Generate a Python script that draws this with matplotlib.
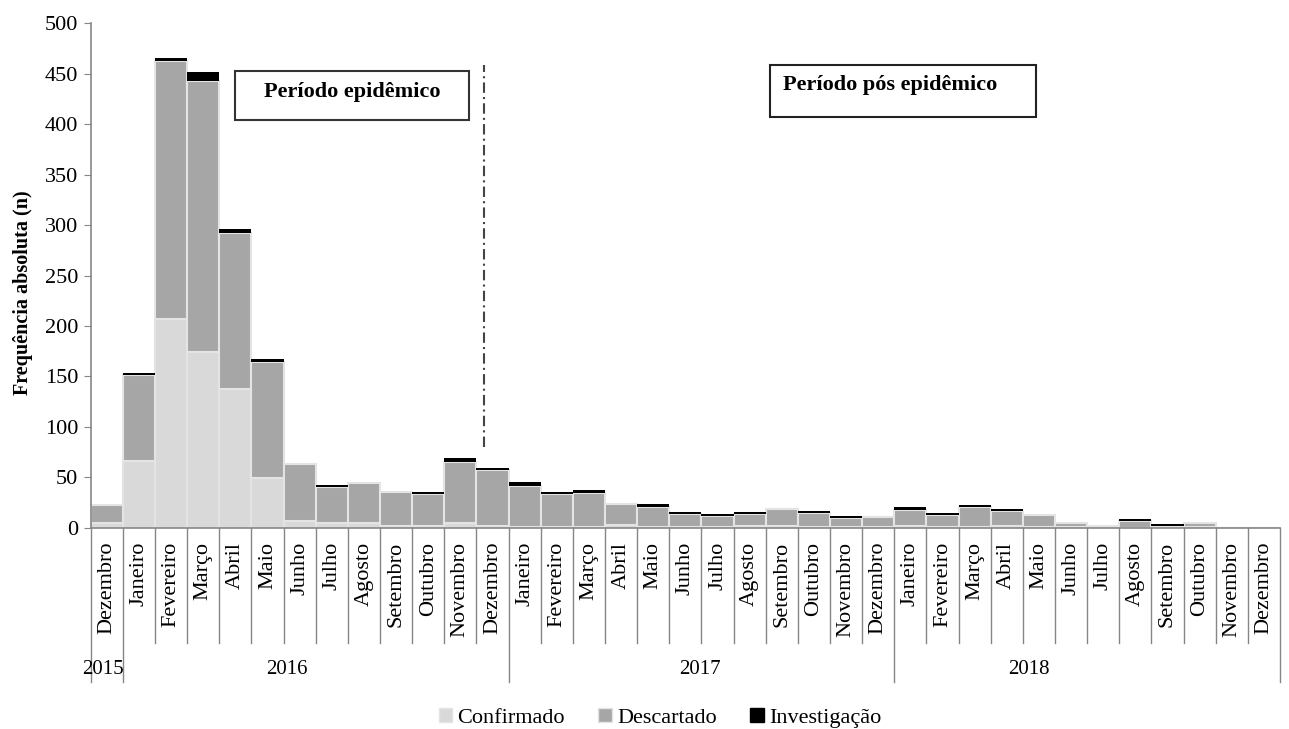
import numpy as np
import matplotlib
matplotlib.use("Agg")
import matplotlib.pyplot as plt
from matplotlib.patches import Patch, Rectangle

plt.rcParams["font.family"] = ["Liberation Serif", "DejaVu Serif"]

# months: Dez/2015, then Jan..Dez for 2016, 2017, 2018
month_names = ["Janeiro", "Fevereiro", "Março", "Abril", "Maio", "Junho",
               "Julho", "Agosto", "Setembro", "Outubro", "Novembro", "Dezembro"]
months = ["Dezembro"] + month_names * 3
years = ["2015", "2016", "2017", "2018"]
year_sizes = [1, 12, 12, 12]

confirmado = [5, 66, 207, 174, 138, 49, 7, 5, 5, 2, 2, 5, 2,
              1, 1, 1, 3, 1, 1, 1, 2, 2, 1, 1, 1,
              2, 1, 1, 2, 1, 1, 0, 0, 0, 1, 0, 0]
descartado = [18, 85, 256, 269, 154, 115, 56, 35, 39, 33, 31, 60, 55,
              40, 32, 33, 21, 20, 13, 11, 12, 17, 14, 9, 10,
              16, 12, 20, 15, 12, 4, 2, 7, 2, 4, 0, 0]
investigacao = [0, 2, 3, 9, 4, 3, 0, 2, 0, 0, 2, 4, 2,
                4, 2, 3, 0, 3, 2, 2, 2, 0, 2, 2, 0,
                3, 2, 2, 2, 0, 0, 0, 2, 2, 0, 0, 0]

c_conf = "#d9d9d9"
c_desc = "#a6a6a6"
c_inv = "#000000"
edge = "#e4e4e4"
axis_gray = "#868686"

fig = plt.figure(figsize=(12.89, 7.29), dpi=100)
ax = fig.add_axes([0.0704, 0.2761, 0.9226, 0.6919])

x = np.arange(len(months))
conf = np.array(confirmado)
desc = np.array(descartado)
inv = np.array(investigacao)

ax.bar(x, conf, width=1.0, color=c_conf, edgecolor=edge, linewidth=1.5)
ax.bar(x, desc, width=1.0, bottom=conf, color=c_desc, edgecolor=edge, linewidth=1.5)
ax.bar(x, inv, width=1.0, bottom=conf + desc, color=c_inv, linewidth=0)

ax.set_xlim(-0.5, len(months) - 0.5)
ax.set_ylim(0, 500)
ax.set_yticks(np.arange(0, 501, 50))
ax.tick_params(axis="y", labelsize=16, length=5, color=axis_gray, pad=4)
ax.set_xticks(x)
ax.set_xticklabels(months, rotation=90, fontsize=16)
ax.tick_params(axis="x", length=0, pad=10)

for s in ["top", "right"]:
    ax.spines[s].set_visible(False)
for s in ["left", "bottom"]:
    ax.spines[s].set_color(axis_gray)
    ax.spines[s].set_linewidth(1.2)

# separators under the axis
trans = ax.get_xaxis_transform()
year_bounds = np.cumsum([0] + year_sizes) - 0.5
for b in np.arange(-0.5, len(months), 1.0):
    low = -0.306 if b in year_bounds else -0.229
    ax.plot([b, b], [0, low], transform=trans, clip_on=False,
            color=axis_gray, linewidth=1.0)

year_pos = [-0.12, 5.61, 18.46, 28.69]
for yx, lab in zip(year_pos, years):
    ax.text(yx, -0.282, lab, transform=trans, ha="center", va="center", fontsize=15)

fig.text(0.018, 0.599, "Frequência absoluta (n)", rotation=90, ha="center",
         va="center", fontsize=14.5, fontweight="bold")

# period boxes
ax.add_patch(Rectangle((3.99, 404), 7.28, 49, fill=False, edgecolor="#333333",
                       linewidth=1.5, zorder=5))
ax.text(7.63, 432, "Período epidêmico", ha="center", va="center",
        fontsize=16, fontweight="bold", zorder=6)
ax.add_patch(Rectangle((20.63, 407.3), 8.27, 51.3, fill=False, edgecolor="#222222",
                       linewidth=1.5, zorder=5))
ax.text(21.05, 438.8, "Período pós epidêmico", ha="left", va="center",
        fontsize=16, fontweight="bold", zorder=6)

ax.plot([11.75, 11.75], [80, 459], color="#444444", linewidth=1.5,
        linestyle=(0, (5, 2, 1, 2)))

handles = [Patch(facecolor=c_conf, edgecolor=edge, label="Confirmado"),
           Patch(facecolor=c_desc, edgecolor=edge, label="Descartado"),
           Patch(facecolor=c_inv, edgecolor=c_inv, label="Investigação")]
fig.legend(handles=handles, loc="lower center", bbox_to_anchor=(0.512, -0.026),
           ncol=3, frameon=False, fontsize=16, handlelength=0.6, handleheight=0.6,
           handletextpad=0.25, columnspacing=1.5)

fig.savefig("out.png", dpi=100)
